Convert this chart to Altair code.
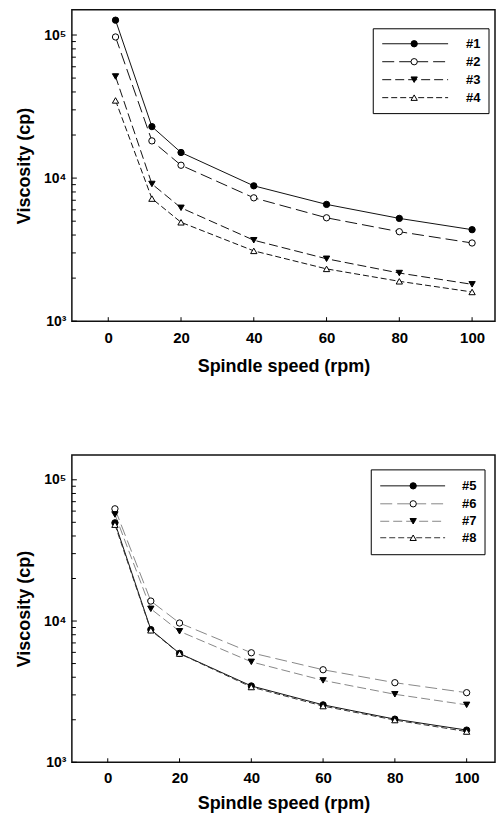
import altair as alt
import pandas as pd

speed = [2, 12, 20, 40, 60, 80, 100]

top_names = ["#1", "#2", "#3", "#4"]
v1 = [127000, 22900, 15100, 8830, 6550, 5230, 4360]
v2 = [96900, 18200, 12300, 7280, 5280, 4220, 3520]
v3 = [51300, 9100, 6200, 3680, 2730, 2170, 1810]
v4 = [34900, 7190, 4910, 3100, 2320, 1900, 1600]

bottom_names = ["#5", "#6", "#7", "#8"]
v5 = [49600, 8700, 5900, 3470, 2550, 2020, 1690]
v6 = [62300, 13850, 9680, 5960, 4520, 3660, 3110]
v7 = [56800, 12200, 8460, 5140, 3800, 3030, 2550]
v8 = [48100, 8600, 5880, 3410, 2500, 1990, 1650]

x_ticks = [0, 20, 40, 60, 80, 100]
y_major = [1000, 10000, 100000]
y_minor = [2000, 3000, 4000, 5000, 6000, 7000, 8000, 9000,
           20000, 30000, 40000, 50000, 60000, 70000, 80000, 90000]

FONT = "Liberation Sans"
shapes = ["circle", "circle", "triangle-down", "triangle-up"]
fills = ["black", "white", "black", "white"]
dashes = [None, [12, 5], [9, 4], [6, 3]]

dummy = alt.Data(values=[{"a": 1}])


def panel(names, series, xmax, W, H, colors, box, rows_y, line_x, mark_x, text_x,
          lab_pad, title_pad):
    xs = alt.Scale(domain=[-10, xmax], nice=False, zero=False)
    ys = alt.Scale(type="log", domain=[1000, 150000], nice=False)
    x_axis = alt.Axis(values=x_ticks, title="Spindle speed (rpm)", grid=False, ticks=False,
                      domain=False, labelFont=FONT, labelFontSize=15, labelFontWeight="bold",
                      labelColor="black", labelPadding=lab_pad, titleFont=FONT, titleFontSize=18,
                      titleFontWeight="bold", titleColor="black", titlePadding=title_pad)
    y_axis = alt.Axis(values=y_major, title="Viscosity (cp)", grid=False, ticks=False,
                      domain=False, labelFont=FONT, labelFontSize=14, labelFontWeight="bold",
                      labelColor="black", labelPadding=6,
                      labelExpr="datum.value == 1000 ? '10\u00b3' : datum.value == 10000 ? '10\u2074' : '10\u2075'",
                      titleFont=FONT, titleFontSize=18, titleFontWeight="bold",
                      titleColor="black", titlePadding=10)

    def X(f):
        return alt.X(f, scale=xs, axis=x_axis)

    def Y(f):
        return alt.Y(f, scale=ys, axis=y_axis)

    layers = []
    for i, (nm, vals) in enumerate(zip(names, series)):
        df = pd.DataFrame({"speed": speed, "visc": vals})
        lkw = dict(color=colors[i], strokeWidth=1)
        if dashes[i]:
            lkw["strokeDash"] = dashes[i]
        layers.append(alt.Chart(df).mark_line(**lkw).encode(x=X("speed:Q"), y=Y("visc:Q")))
    for i, (nm, vals) in enumerate(zip(names, series)):
        df = pd.DataFrame({"speed": speed, "visc": vals})
        layers.append(alt.Chart(df).mark_point(shape=shapes[i], filled=True, fill=fills[i],
                                               stroke="black", strokeWidth=1, size=40,
                                               opacity=1).encode(x=X("speed:Q"), y=Y("visc:Q")))
    # tick marks pointing inward
    xt = pd.DataFrame({"speed": x_ticks})
    layers.append(alt.Chart(xt).mark_rule(color="black", strokeWidth=1).encode(
        x=X("speed:Q"), y=alt.value(H), y2=alt.value(H - 4)))
    ymj = pd.DataFrame({"visc": y_major})
    layers.append(alt.Chart(ymj).mark_rule(color="black", strokeWidth=1).encode(
        y=Y("visc:Q"), x=alt.value(0), x2=alt.value(5)))
    ymn = pd.DataFrame({"visc": y_minor})
    layers.append(alt.Chart(ymn).mark_rule(color="black", strokeWidth=1).encode(
        y=Y("visc:Q"), x=alt.value(0), x2=alt.value(4)))
    # legend
    layers.append(alt.Chart(dummy).mark_rect(fill="white", stroke="black", strokeWidth=1).encode(
        x=alt.value(box[0]), x2=alt.value(box[1]), y=alt.value(box[2]), y2=alt.value(box[3])))
    for i, nm in enumerate(names):
        lkw = dict(color=colors[i], strokeWidth=1)
        if dashes[i]:
            lkw["strokeDash"] = dashes[i]
        layers.append(alt.Chart(dummy).mark_rule(**lkw).encode(
            x=alt.value(line_x[0]), x2=alt.value(line_x[1]), y=alt.value(rows_y[i])))
        layers.append(alt.Chart(dummy).mark_point(shape=shapes[i], filled=True, fill=fills[i],
                                                  stroke="black", strokeWidth=1, size=40,
                                                  opacity=1).encode(
            x=alt.value(mark_x), y=alt.value(rows_y[i])))
        layers.append(alt.Chart(dummy).mark_text(align="left", baseline="middle", font=FONT,
                                                 fontSize=13, fontWeight="bold",
                                                 color="black").encode(
            x=alt.value(text_x), y=alt.value(rows_y[i]), text=alt.value(nm)))
    return alt.layer(*layers).properties(width=W, height=H)


top = panel(top_names, [v1, v2, v3, v4], 106.3, 424, 312,
            ["#111", "#111", "#111", "#111"],
            (302, 418, 19, 104), [34, 52, 70, 88], (311, 377), 343, 395, 9, 12)
bottom = panel(bottom_names, [v5, v6, v7, v8], 107.9, 424, 308,
               ["#111", "#888", "#888", "#333"],
               (300, 414, 15, 100), [31, 49, 66.5, 83], (309, 374), 342, 391, 8, 9)

pad = {"left": 6, "top": 0, "right": 0, "bottom": 0}
chart = alt.vconcat(top, bottom, spacing=78, padding=pad).configure_view(
    stroke="#111", strokeWidth=1.5)

chart.save("out.html", embed_options={"renderer": "svg", "actions": False})
